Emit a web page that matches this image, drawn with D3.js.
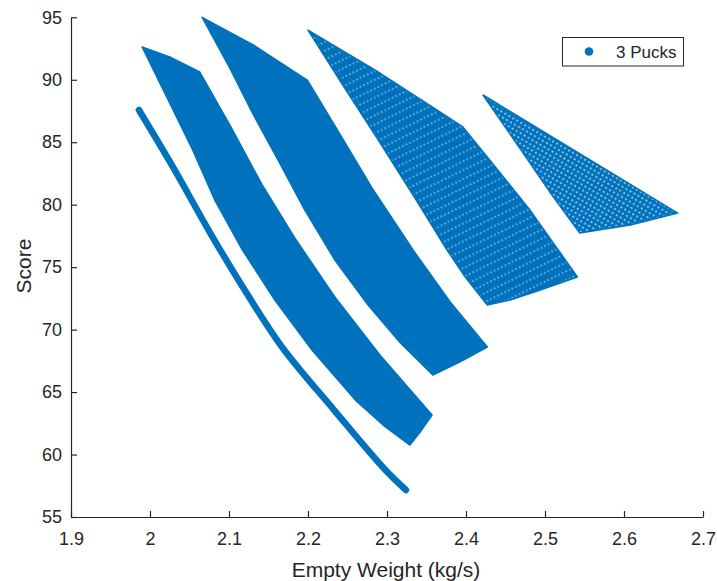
<!DOCTYPE html>
<html>
<head>
<meta charset="utf-8">
<script src="https://cdn.jsdelivr.net/npm/d3@7"></script>
<style>
  body { margin: 0; background: #fff; }
  text { font-family: Arial, "Liberation Sans", Helvetica, sans-serif; fill: #262626; }
</style>
</head>
<body>
<svg id="chart" width="717" height="581"></svg>
<script>
const xTicks = [1.9, 2, 2.1, 2.2, 2.3, 2.4, 2.5, 2.6, 2.7];
const yTicks = [55, 60, 65, 70, 75, 80, 85, 90, 95];
const xLabel = 'Empty Weight (kg/s)';
const yLabel = 'Score';
const seriesName = '3 Pucks';

// thin lowest band, read as a centre line of the point cloud
const band1 = [
  [1.986, 87.58], [2.029, 83.02], [2.077, 77.65], [2.123, 72.85],
  [2.168, 68.53], [2.233, 63.56], [2.298, 58.76], [2.324, 57.16]
];
// the wider bands, read as outlines of the point clouds
// (top point, down the upper/right edge, across the bottom, back up the left edge)
const band2 = [
  [1.990, 92.62], [2.025, 91.82], [2.063, 90.62], [2.101, 86.38], [2.142, 81.58],
  [2.185, 77.17], [2.234, 72.61], [2.291, 67.97], [2.357, 63.16], [2.342, 61.80],
  [2.329, 60.76], [2.295, 62.36], [2.260, 64.36], [2.205, 68.37], [2.158, 72.37],
  [2.117, 76.37], [2.082, 80.37], [2.054, 84.38], [2.023, 88.38]
];
const band3 = [
  [2.066, 95.00], [2.133, 92.70], [2.199, 89.98], [2.241, 85.58], [2.281, 81.34],
  [2.333, 76.37], [2.380, 72.21], [2.427, 68.61], [2.392, 67.41], [2.358, 66.37],
  [2.317, 68.93], [2.276, 71.97], [2.234, 75.57], [2.196, 79.57], [2.162, 83.58],
  [2.129, 87.42], [2.099, 91.18]
];
const band4 = [
  [2.200, 93.98], [2.291, 90.54], [2.363, 87.58], [2.396, 86.22], [2.430, 83.58],
  [2.481, 79.57], [2.541, 74.21], [2.494, 73.17], [2.456, 72.37], [2.427, 71.97],
  [2.399, 74.21], [2.376, 76.37], [2.337, 80.37], [2.289, 85.18], [2.244, 89.58]
];
const band5 = [
  [2.4215, 88.78], [2.668, 79.33], [2.608, 78.37], [2.544, 77.73],
  [2.506, 81.02], [2.468, 84.54]
];

const blue = '#0072BD';
const svg = d3.select('#chart');
const x = d3.scaleLinear().domain([1.9, 2.7]).range([71, 703]);
const y = d3.scaleLinear().domain([55, 95]).range([517, 17.3]);

const defs = svg.append('defs');
const rowDots = defs.append('pattern')
  .attr('id', 'rowDots')
  .attr('patternUnits', 'userSpaceOnUse')
  .attr('width', 4).attr('height', 8)
  .attr('patternTransform', 'rotate(-26)');
rowDots.append('rect').attr('width', 4).attr('height', 8).attr('fill', blue);
rowDots.append('circle').attr('cx', 2).attr('cy', 4).attr('r', 0.75).attr('fill', '#fff').attr('opacity', 0.85);

const gridDots = defs.append('pattern')
  .attr('id', 'gridDots')
  .attr('patternUnits', 'userSpaceOnUse')
  .attr('width', 4.6).attr('height', 4.6)
  .attr('patternTransform', 'rotate(30)');
gridDots.append('rect').attr('width', 4.6).attr('height', 4.6).attr('fill', blue);
gridDots.append('circle').attr('cx', 2.3).attr('cy', 2.3).attr('r', 1.0).attr('fill', '#fff').attr('opacity', 0.8);

const line = d3.line().x(d => x(d[0])).y(d => y(d[1])).curve(d3.curveCatmullRom.alpha(0.5));
const outline = d3.line().x(d => x(d[0])).y(d => y(d[1])).curve(d3.curveLinearClosed);

const plot = svg.append('g').classed('plot', true);
plot.append('path')
  .attr('d', line(band1))
  .attr('fill', 'none')
  .attr('stroke', blue)
  .attr('stroke-width', 6.5)
  .attr('stroke-linecap', 'round')
  .attr('stroke-linejoin', 'round');

const bands = [
  { pts: band2, fill: blue },
  { pts: band3, fill: blue },
  { pts: band4, fill: 'url(#rowDots)' },
  { pts: band5, fill: 'url(#gridDots)' }
];
plot.selectAll('.band')
  .data(bands)
  .enter().append('path')
  .classed('band', true)
  .attr('d', d => outline(d.pts))
  .attr('fill', d => d.fill)
  .attr('stroke', blue)
  .attr('stroke-width', 1.5)
  .attr('stroke-linejoin', 'round');

// axes, MATLAB style: ticks point inward, no box
const xAxis = svg.append('g')
  .attr('transform', `translate(0,${y(55)})`)
  .call(d3.axisBottom(x).tickValues(xTicks).tickFormat(d3.format('')).tickSizeInner(-6).tickSizeOuter(0).tickPadding(15));
const yAxis = svg.append('g')
  .attr('transform', `translate(${x(1.9)},0)`)
  .call(d3.axisLeft(y).tickValues(yTicks).tickSizeInner(-6).tickSizeOuter(0).tickPadding(9));
[xAxis, yAxis].forEach(g => {
  g.select('.domain').attr('stroke', '#262626').attr('stroke-width', 1.2);
  g.selectAll('.tick line').attr('stroke', '#262626').attr('stroke-width', 1.2);
  g.selectAll('.tick text').attr('fill', '#262626').style('font-size', '18px').attr('font-family', null);
});

svg.append('text')
  .attr('x', 386).attr('y', 577)
  .attr('text-anchor', 'middle')
  .style('font-size', '21px')
  .text(xLabel);
svg.append('text')
  .attr('transform', 'translate(31,266) rotate(-90)')
  .attr('text-anchor', 'middle')
  .style('font-size', '21px')
  .text(yLabel);

// legend
const legend = svg.append('g').classed('legend', true);
legend.append('rect')
  .attr('x', 562.5).attr('y', 37.5)
  .attr('width', 121).attr('height', 28.5)
  .attr('fill', '#fff')
  .attr('stroke', '#262626')
  .attr('stroke-width', 1);
legend.append('circle')
  .attr('cx', 589).attr('cy', 51.5).attr('r', 4.3)
  .attr('fill', blue);
legend.append('text')
  .attr('x', 616).attr('y', 57.5)
  .style('font-size', '17px')
  .text(seriesName);
</script>
</body>
</html>
